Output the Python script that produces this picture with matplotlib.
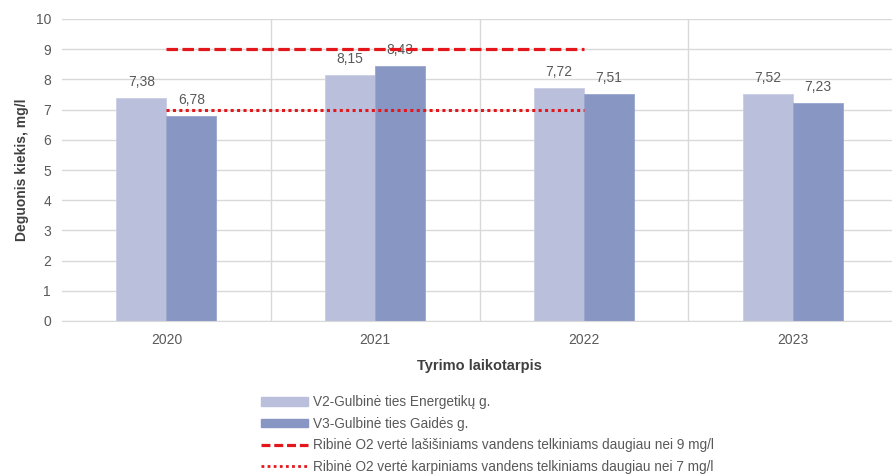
import matplotlib.pyplot as plt
from matplotlib.patches import Patch
from matplotlib.lines import Line2D

plt.rcParams['font.family'] = ['Liberation Sans', 'DejaVu Sans']

# data
years = ['2020', '2021', '2022', '2023']
v2 = [7.38, 8.15, 7.72, 7.52]
v3 = [6.78, 8.43, 7.51, 7.23]
salmon_limit = 9
carp_limit = 7
limit_years = ['2020', '2021', '2022']

v2_label = 'V2-Gulbinė ties Energetikų g.'
v3_label = 'V3-Gulbinė ties Gaidės g.'
salmon_label = 'Ribinė O2 vertė lašišiniams vandens telkiniams daugiau nei 9 mg/l'
carp_label = 'Ribinė O2 vertė karpiniams vandens telkiniams daugiau nei 7 mg/l'

c_light = '#BAC0DC'
c_dark = '#8896C4'
c_red = '#E3171B'
c_text = '#595959'
c_grid = '#D9D9D9'

fig = plt.figure(figsize=(8.92, 4.75), dpi=100)
ax = fig.add_axes([62 / 892, 1 - 321 / 475, (897 - 62) / 892, (321 - 19) / 475])

x = list(range(len(years)))
w = 0.24
b1 = ax.bar([i - w / 2 for i in x], v2, w, color=c_light, edgecolor='#C9CDE4', linewidth=0.6, zorder=2)
b2 = ax.bar([i + w / 2 for i in x], v3, w, color=c_dark, edgecolor='#9AA5CF', linewidth=0.6, zorder=2)

for rects, vals in ((b1, v2), (b2, v3)):
    for r, v in zip(rects, vals):
        ax.text(r.get_x() + r.get_width() / 2, v + 0.3, f'{v:.2f}'.replace('.', ','),
                ha='center', va='bottom', fontsize=10, color=c_text, zorder=3)

lx = [years.index(y) for y in limit_years]
ax.plot([lx[0], lx[-1]], [salmon_limit] * 2, color=c_red, lw=2.3,
        dashes=(3.6, 1.4), zorder=4)
ax.plot([lx[0], lx[-1]], [carp_limit] * 2, color=c_red, lw=2.2,
        dashes=(1, 1.1), dash_capstyle='butt', zorder=4)

ax.set_xlim(-0.5, len(years) - 0.5)
ax.set_ylim(0, 10)
ax.set_yticks(range(0, 11))
ax.set_xticks(x)
ax.set_xticklabels(years)
ax.set_xticks([i + 0.5 for i in x[:-1]], minor=True)
ax.grid(axis='y', color=c_grid, lw=1, zorder=0)
ax.grid(axis='x', which='minor', color=c_grid, lw=1, zorder=0)
ax.tick_params(axis='both', which='both', length=0, labelsize=10, colors=c_text)
ax.tick_params(axis='x', pad=9)
ax.tick_params(axis='y', pad=8)
for s in ['top', 'right', 'left']:
    ax.spines[s].set_visible(False)
ax.spines['bottom'].set_color(c_grid)

ax.set_ylabel('Deguonis kiekis, mg/l', fontsize=10, fontweight='bold', color='#404040', labelpad=5)
ax.set_xlabel('Tyrimo laikotarpis', fontsize=10.5, fontweight='bold', color='#404040', labelpad=8)

handles = [
    Patch(facecolor=c_light, edgecolor=c_light),
    Patch(facecolor=c_dark, edgecolor=c_dark),
    Line2D([], [], color=c_red, lw=2.3, dashes=(2.8, 1.2)),
    Line2D([], [], color=c_red, lw=2.0, dashes=(1, 1.2)),
]
leg = fig.legend(handles, [v2_label, v3_label, salmon_label, carp_label],
                 loc='upper left', bbox_to_anchor=(249 / 892, 1 - 383 / 475),
                 frameon=False, fontsize=9.8, handlelength=3.4, handleheight=0.55,
                 handletextpad=0.4, labelspacing=0.55, labelcolor=c_text)

fig.savefig('out.png', dpi=100)
